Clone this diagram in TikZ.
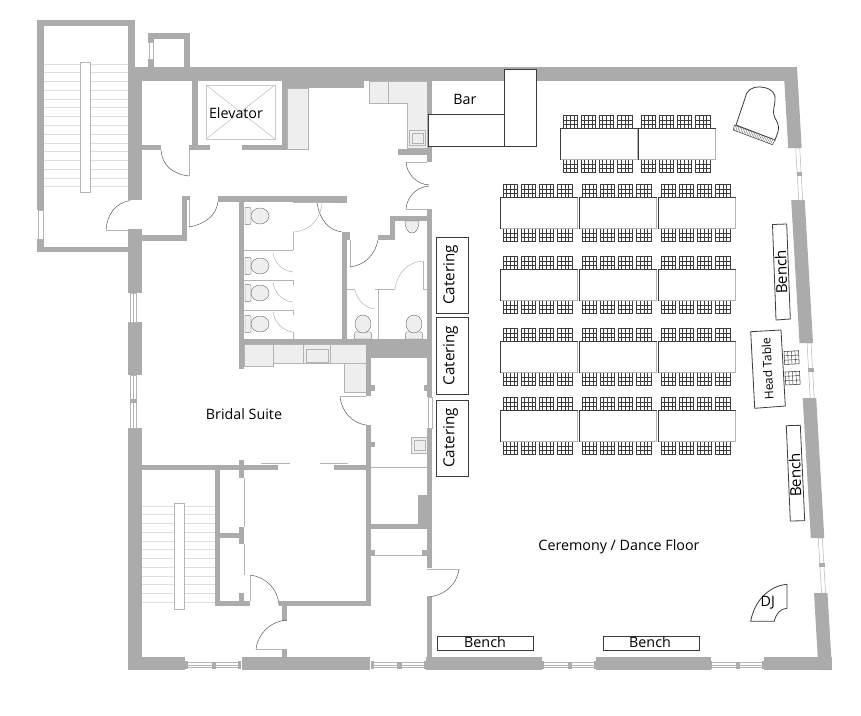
\documentclass[tikz,border=0pt]{standalone}
\usepackage{fontspec}
\usetikzlibrary{calc}
\setmainfont{Open Sans}
\definecolor{wallc}{HTML}{ABABAB}
\definecolor{cabc}{HTML}{EEEEEE}
\definecolor{edgec}{HTML}{B4B4B4}
\definecolor{doorc}{HTML}{5A5A5A}
\definecolor{treadc}{HTML}{DEDEDE}
\definecolor{boxc}{HTML}{3C3C3C}
\newcommand{\wallbox}[4]{\fill[wallc] (#1,#2) rectangle (#3,#4);}
\newcommand{\thinline}[4]{\draw[panel] (#1,#2) -- (#3,#4);}
\tikzset{
  panel/.style={draw=edgec,line width=0.7pt},
  cabinet/.style={fill=cabc,draw=edgec,line width=0.7pt},
  furn/.style={fill=white,draw=boxc,line width=0.8pt},
  doorarc/.style={draw=doorc,line width=0.5pt},
  lightarc/.style={draw=edgec,line width=0.5pt},
  tread/.style={draw=treadc,line width=0.7pt},
  label/.style={font=\fontsize{14.3}{16}\selectfont,text=black,inner sep=0pt},
  biglabel/.style={font=\fontsize{15.2}{17}\selectfont,text=black,inner sep=0pt},
  windowpane/.style={fill=white,draw=edgec,line width=0.5pt},
  chair/.pic={
    \draw[boxc,line width=0.55pt,fill=white] (0,0) rectangle (14.5,13);
    \draw[boxc,line width=0.4pt] (3.6,0) -- (3.6,13) (7.3,0) -- (7.3,13) (10.9,0) -- (10.9,13)
      (0,4.3) -- (14.5,4.3) (0,8.7) -- (14.5,8.7);
  },
  chairrow/.pic={
    \pic at (0,0) {chair}; \pic at (18,0) {chair}; \pic at (36,0) {chair}; \pic at (54.5,0) {chair};
  },
  dining/.pic={
    \pic at (3,-12.5) {chairrow};
    \pic at (3,31.5) {chairrow};
    \draw[draw=boxc,line width=0.5pt,fill=white] (0,0) rectangle (77,31);
    \draw[draw=edgec,line width=0.6pt] (77.5,0.5) -- (77.5,31.5) -- (0.5,31.5);
  },
  toiletside/.pic={
    \draw[cabinet,draw=doorc,line width=0.35pt] (-15,-9) -- (-9,-8) -- (-9,8) -- (-15,9) -- cycle;
    \draw[cabinet,draw=doorc,line width=0.35pt] (0,0) ellipse (9 and 8);
  },
  toiletup/.pic={
    \draw[cabinet,draw=doorc,line width=0.35pt] (-9,15) -- (-8,8) -- (8,8) -- (9,15) -- cycle;
    \draw[cabinet,draw=doorc,line width=0.35pt] (0,0) ellipse (8 and 9);
  },
  windowh/.pic={
    \fill[windowpane] (0,0) rectangle (54,5);
    \draw[edgec,line width=0.4pt] (0,2.5) -- (54,2.5);
    \fill[wallc] (25.5,-1) rectangle (30,6);
    \fill[wallc] (-1,-2) rectangle (2,6.5);
    \fill[wallc] (52,-2) rectangle (55,6.5);
  }
}
\begin{document}
\begin{tikzpicture}[x=1pt,y=-1pt]
\useasboundingbox (0,0) rectangle (861,715);
\fill[white] (0,0) rectangle (861,715);

% ---------- stairs (treads first)
\foreach \y in {64,72.8,81.5,90.3,99.1,107.8,116.6,125.4,134.2,143,151.7,160.5,169.3,178,186.8}
  \draw[tread] (44,\y) -- (128,\y);
\draw[fill=white,draw=edgec,line width=0.7pt] (80,62) rectangle (90,192);
\foreach \y in {506,514.8,523.5,532.3,541,549.8,558.5,567.3,576,584.8,593.5,602.5}
  \draw[tread] (141,\y) -- (215,\y);
\draw[fill=white,draw=edgec,line width=0.7pt] (174,503) rectangle (184,609);

% ---------- cabinets
\draw[cabinet] (287,88) rectangle (308,149);
\draw[cabinet] (369,81) -- (427,81) -- (427,148) -- (407,148) -- (407,103) -- (369,103) -- cycle;
\draw[panel] (388,81) -- (388,103);
\draw[cabinet] (409.5,130) rectangle (425,145);
\draw[panel] (412,133) rectangle (423,143);
\draw[cabinet] (244,344) rectangle (273,366);
\draw[cabinet] (273,344) rectangle (366,363);
\draw[panel] (303,344) -- (303,363) (330,344) -- (330,363);
\draw[panel] (306,349) rectangle (328,362);
\draw[cabinet] (344,363) rectangle (366,392);
\draw[cabinet] (411,437) rectangle (427,453);
\draw[panel] (414,440) rectangle (425,450);

% ---------- walls: upper stair and top
\wallbox{37}{20}{135}{26}
\wallbox{37}{20}{44}{210}
\wallbox{37}{239}{44}{252}
\wallbox{37}{246.5}{128}{252}
\wallbox{128}{20}{135}{81}
\wallbox{128}{67}{142}{200}
\wallbox{128}{67}{797}{81}
\wallbox{282}{81}{364}{88}
\fill[windowpane] (38.5,210) rectangle (43,239);
% small closet
\wallbox{148}{32.5}{154}{42.5}
\wallbox{148}{59}{154}{67}
\wallbox{148}{32.5}{190}{39}
\wallbox{184}{32.5}{190}{67}
\fill[windowpane] (149,42.5) rectangle (153.5,59);
% elevator block
\wallbox{192}{81}{198}{150}
\wallbox{189}{145}{210}{150}
\wallbox{242}{145}{287}{150}
\wallbox{282}{88}{287}{150}
\wallbox{141}{145}{161}{150}
% hall
\wallbox{398}{149}{427}{155}
\wallbox{427}{81}{432}{162}
\wallbox{427}{209}{432}{397}
\wallbox{427}{428}{432}{568}
\wallbox{427}{597}{432}{660}
\fill[windowpane] (428,397) rectangle (432,428);
% left outer wall
\wallbox{128}{229}{142}{293}
\wallbox{128}{322}{142}{375}
\wallbox{128}{428}{142}{670}
\fill[windowpane] (130,293) rectangle (136.5,322);
\fill[windowpane] (130,375) rectangle (136.5,428);
\draw[edgec,line width=0.4pt] (133,293) -- (133,322) (133,375) -- (133,428);
\wallbox{129.5}{398.5}{137}{403}
\wallbox{141}{235}{187}{241}
\wallbox{182}{196}{187}{241}
\wallbox{187}{196}{190}{200}
\thinline{189}{200}{189}{227}
% restrooms
\wallbox{218}{196}{347}{202}
\wallbox{333}{196}{347}{203}
\wallbox{239}{196}{244}{369}
\wallbox{239}{339}{427}{344}
\wallbox{366}{339}{427}{358}
\wallbox{342}{232}{347}{339}
\wallbox{342}{232}{350}{240}
\wallbox{390}{216}{427}{221}
\wallbox{390}{216}{395}{240}
\wallbox{378}{235}{395}{240}
\draw[panel] (293,202.5) -- (333,202.5);
\thinline{293}{232}{293}{250}
\thinline{350}{240}{350}{267}
\thinline{244}{250}{293}{250}
\thinline{244}{280}{293}{280}
\thinline{244}{310}{293}{310}
\thinline{293}{280}{293}{285}
\thinline{293}{310}{293}{315}
\thinline{293}{332}{293}{339}
\thinline{347}{289}{355}{289}
\thinline{375}{289}{395}{289}
\thinline{423}{289}{427}{289}
\thinline{378}{289}{378}{339}
\thinline{423}{261}{423}{289}
% central rooms
\wallbox{366}{358}{371}{396}
\wallbox{371}{385}{375}{391}
\wallbox{424}{385}{427}{391}
\wallbox{366}{425}{371}{606}
\wallbox{371}{442}{375}{447}
\wallbox{371}{550}{375}{556}
\wallbox{422}{550}{427}{556}
\wallbox{371}{524}{427}{529}
\wallbox{418}{495}{427}{529}
\thinline{371}{467}{427}{467}
\thinline{375}{555.5}{422}{555.5}
% bridal suite bottom
\wallbox{141}{465}{278}{470}
\wallbox{334}{465}{366}{470}
\thinline{261}{463}{290}{463}
\thinline{320}{463}{348}{463}
\wallbox{239}{460}{244}{478}
\wallbox{215}{465}{220}{606}
\wallbox{220}{533}{239}{538}
\wallbox{239}{527}{244}{544}
\wallbox{239}{593}{244}{606}
\wallbox{215}{601}{250}{606}
\wallbox{279}{601}{371}{606}
\wallbox{282}{601}{287}{621}
\wallbox{282}{649}{287}{660}
\thinline{244}{478}{244}{527}
\thinline{244}{544}{244}{575}
\thinline{250}{575}{250}{601}
\thinline{256}{649}{282}{649}
\thinline{106}{230}{128}{230}
\thinline{406}{162}{427}{162}
\thinline{406}{209}{427}{209}
\thinline{427}{569}{459}{569}
\thinline{340}{396.5}{366}{396.5}
\draw[panel] (189,150) -- (189,176);
% bottom wall
\wallbox{128}{656.5}{185}{670}
\wallbox{242}{656.5}{370}{670}
\wallbox{426}{656.5}{542}{670}
\wallbox{596}{656.5}{711}{670}
\wallbox{764}{656.5}{832}{670}
\pic at (186,662.5) {windowh};
\pic at (371.5,662.5) {windowh};
\pic at (542,662.5) {windowh};
\pic at (710,662.5) {windowh};
% right wall
\fill[wallc] (783.5,67) -- (797,67) -- (801.7,148) -- (788.2,148) -- cycle;
\fill[wallc] (791.2,200) -- (804.7,200) -- (813,343) -- (799.5,343) -- cycle;
\fill[wallc] (802.7,398) -- (816.2,398) -- (824.3,538) -- (810.8,538) -- cycle;
\fill[wallc] (814,593) -- (827.5,593) -- (832,670) -- (818.5,670) -- cycle;
\fill[windowpane] (795.7,148) -- (799.7,148) -- (802.7,200) -- (798.7,200) -- cycle;
\fill[windowpane] (807,343) -- (811,343) -- (814.2,398) -- (810.2,398) -- cycle;
\fill[windowpane] (818.3,538) -- (822.3,538) -- (825.5,593) -- (821.5,593) -- cycle;
\fill[wallc] (796.5,172) rectangle (802,176);
\fill[wallc] (808,368) rectangle (813.5,372);
\fill[wallc] (819,563) rectangle (825,567);

% ---------- doors
\draw[doorarc] (161,150) .. controls (162,165) and (172,174) .. (189,176);
\draw[doorarc] (130,200.5) .. controls (115,203) and (107,215) .. (106,230);
\draw[doorarc] (189,227) .. controls (205,224) and (216,216) .. (218,202);
\draw[doorarc] (317,203) .. controls (320,220) and (328,230) .. (342,232);
\draw[lightarc] (322,203) .. controls (320,220) and (310,231) .. (293,232);
\draw[lightarc] (273,253) .. controls (275,264) and (283,271) .. (293,272);
\draw[lightarc] (273,283) .. controls (275,294) and (283,301) .. (293,302);
\draw[lightarc] (273,312) .. controls (275,323) and (283,331) .. (293,332);
\draw[doorarc] (378,240) .. controls (375,255) and (365,265) .. (350,267);
\draw[lightarc] (355,290) .. controls (357,300) and (365,308) .. (375,309);
\draw[lightarc] (395,289) .. controls (397,273) and (408,262) .. (423,261);
\draw[doorarc] (406,162) .. controls (407,174) and (416,184) .. (429,185);
\draw[doorarc] (429,186) .. controls (416,187) and (407,197) .. (406,209);
\draw[doorarc] (340,397) .. controls (342,412) and (352,423) .. (366,425);
\draw[doorarc] (250,575) .. controls (266,577) and (278,589) .. (279,605);
\draw[doorarc] (287,620) .. controls (271,621) and (258,633) .. (256,649);
\draw[doorarc] (459,569) .. controls (457,585) and (444,596) .. (427,597);

% ---------- toilets
\pic at (260,216) {toiletside};
\pic at (260,266) {toiletside};
\pic at (260,293) {toiletside};
\pic at (260,324) {toiletside};
\pic at (363,324) {toiletup};
\pic at (414,324) {toiletup};
\draw[cabinet,draw=doorc,line width=0.35pt] (405,221) .. controls (405,237) and (419,237) .. (419,221) -- cycle;

% ---------- elevator
\draw[edgec!70!white,line width=0.7pt,fill=white] (206,85) rectangle (275,139);
\draw[edgec!70!white,line width=0.7pt] (206,85) -- (275,139) (275,85) -- (206,139);
\node[label] (elevator) at (236,113) {Elevator};

% ---------- bar
\draw[furn] (428,114) rectangle (504,146);
\draw[furn] (504,69) rectangle (536,146);
\node[label] (bar) at (465,99) {Bar};

% ---------- room labels
\node[label] (bridal) at (244,414) {Bridal Suite};
\node[label] (ceremony) at (619,547) {Ceremony / Dance Floor};

% ---------- catering
\node[furn,minimum width=31.5pt,minimum height=76pt,inner sep=0pt] (cat1) at (452.2,275) {};
\node[furn,minimum width=31.5pt,minimum height=77pt,inner sep=0pt] (cat2) at (452.2,355.5) {};
\node[furn,minimum width=31.5pt,minimum height=76pt,inner sep=0pt] (cat3) at (452.2,438) {};
\node[biglabel,rotate=90] at (450.5,275) {Catering};
\node[biglabel,rotate=90] at (450.5,355.5) {Catering};
\node[biglabel,rotate=90] at (450.5,438) {Catering};

% ---------- benches
\draw[furn] (437,636) rectangle (533,650.5);
\draw[furn] (603,636) rectangle (699,650.5);
\node[label] (benchA) at (485,642.5) {Bench};
\node[label] (benchB) at (650,642.5) {Bench};
\draw[furn] (772.5,224.5) -- (786.7,224) -- (790.3,319) -- (776,320) -- cycle;
\node[biglabel,rotate=92] (benchC) at (781,272) {Bench};
\draw[furn] (786.3,425.7) -- (800.3,425.3) -- (804.7,520.7) -- (790.3,521) -- cycle;
\node[biglabel,rotate=92] (benchD) at (795,475) {Bench};

% ---------- head table
\draw[furn] (750.7,331.7) -- (781,330) -- (785.3,406) -- (754.7,408.3) -- cycle;
\node[label,rotate=93,font=\fontsize{12}{14}\selectfont] (head) at (767.5,369) {Head Table};
\pic[rotate=3] at (784,351.5) {chair};
\pic[rotate=3] at (785,372) {chair};

% ---------- DJ
\draw[furn] (750.7,621.3) .. controls (754,602) and (768,586) .. (787,584.3) -- (787,608.3)
  .. controls (780,608.5) and (776,614) .. (774.3,621.3) -- cycle;
\node[label] (dj) at (767.7,602.7) {DJ};

% ---------- piano
\draw[furn] (736,125) -- (746.7,93.3) .. controls (750,87) and (758,86) .. (764,87.5)
  .. controls (772,89) and (776,94) .. (775,100) .. controls (775,106) and (772,110) .. (774.5,117)
  .. controls (777,122) and (780,126) .. (778,132) -- (775,140) -- cycle;
\draw[furn,line width=0.5pt,fill=white] (734.3,125) -- (775,140) -- (772.3,144.7) -- (733.3,130) -- cycle;
\foreach \t in {0.03,0.07,...,0.99}
  \draw[doorc,line width=0.3pt] ($(734.3,125)!\t!(775,140)$) -- ($(733.3,130)!\t!(772.3,144.7)$);

% ---------- dining tables
\pic at (560,128) {dining};
\pic at (638,128) {dining};
\foreach \y in {197,269,341,410}
  \foreach \x in {500,579,658}
    \pic at (\x,\y) {dining};
\end{tikzpicture}
\end{document}
